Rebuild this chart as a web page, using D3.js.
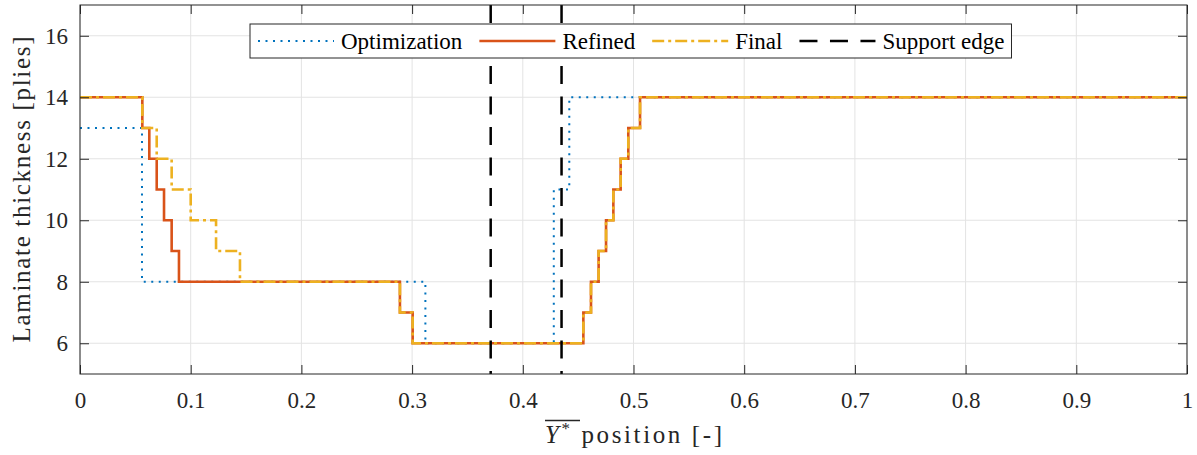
<!DOCTYPE html>
<html>
<head>
<meta charset="utf-8">
<script src="https://cdn.jsdelivr.net/npm/d3@7"></script>
<style>
  body { margin: 0; background: #fff; }
  svg { display: block; }
  svg text { font-family: "Liberation Serif", "Times New Roman", Times, "DejaVu Serif", serif; }
</style>
</head>
<body>
<svg id="chart"></svg>
<script>
const canWidth = 1197;
const canHeight = 455;
const margin = {left: 80, right: 10, top: 5, bottom: 81};

// step data: x is where each level starts, last point closes at x = 1
const optX = [0, 0.056, 0.312, 0.428, 0.442, 1];
const optY = [13, 8, 6, 11, 14, 14];
const refX = [0, 0.0563, 0.0626, 0.0693, 0.0759, 0.0828, 0.0894, 0.289, 0.3005, 0.4547, 0.4616, 0.4685, 0.4752, 0.4818, 0.4884, 0.4953, 0.5059, 1];
const refY = [14, 13, 12, 11, 10, 9, 8, 7, 6, 7, 8, 9, 10, 11, 12, 13, 14, 14];
const finX = [0, 0.0563, 0.0693, 0.0828, 0.1, 0.1229, 0.1445, 0.289, 0.3005, 0.4547, 0.4616, 0.4685, 0.4752, 0.4818, 0.4884, 0.4953, 0.5059, 1];
const finY = [14, 13, 12, 11, 10, 9, 8, 7, 6, 7, 8, 9, 10, 11, 12, 13, 14, 14];
const supportEdges = [0.371, 0.435];

const xTicks = [0, 0.1, 0.2, 0.3, 0.4, 0.5, 0.6, 0.7, 0.8, 0.9, 1];
const yTicks = [6, 8, 10, 12, 14, 16];
const legendNames = ["Optimization", "Refined", "Final", "Support edge"];

const colors = {opt: "#0072BD", ref: "#D95319", fin: "#EDB120", sup: "#000000"};

const plotW = canWidth - margin.left - margin.right;
const plotH = canHeight - margin.top - margin.bottom;

const xs = d3.scaleLinear().domain([0, 1]).range([0, plotW]);
const ys = d3.scaleLinear().domain([5, 17]).range([plotH, 0]);

const svg = d3.select('#chart').attr('width', canWidth).attr('height', canHeight);
const g = svg.append('g').attr('transform', `translate(${margin.left},${margin.top})`);

// grid
g.append('g').selectAll('line').data(xTicks).enter().append('line')
    .attr('x1', d => xs(d)).attr('x2', d => xs(d))
    .attr('y1', 0).attr('y2', plotH)
    .attr('stroke', '#e3e3e3').attr('stroke-width', 1);
g.append('g').selectAll('line').data(yTicks).enter().append('line')
    .attr('x1', 0).attr('x2', plotW)
    .attr('y1', d => ys(d)).attr('y2', d => ys(d))
    .attr('stroke', '#e3e3e3').attr('stroke-width', 1);

const stepLine = d3.line().x(d => xs(d[0])).y(d => ys(d[1])).curve(d3.curveStepAfter);
const zip = (a, b) => a.map((v, i) => [v, b[i]]);

g.append('path').datum(zip(optX, optY))
    .attr('d', stepLine).attr('fill', 'none')
    .attr('stroke', colors.opt).attr('stroke-width', 2)
    .attr('stroke-dasharray', '2,5.5');
g.append('path').datum(zip(refX, refY))
    .attr('d', stepLine).attr('fill', 'none')
    .attr('stroke', colors.ref).attr('stroke-width', 2.6);
g.append('path').datum(zip(finX, finY))
    .attr('d', stepLine).attr('fill', 'none')
    .attr('stroke', colors.fin).attr('stroke-width', 2.6)
    .attr('stroke-dasharray', '12,4,3,4');

g.append('g').selectAll('line').data(supportEdges).enter().append('line')
    .attr('x1', d => xs(d)).attr('x2', d => xs(d))
    .attr('y1', 0).attr('y2', plotH)
    .attr('stroke', colors.sup).attr('stroke-width', 2.5)
    .attr('stroke-dasharray', '18,12.5');

// axes box with inward ticks
const axisColor = '#262626';
g.append('rect').attr('width', plotW).attr('height', plotH)
    .attr('fill', 'none').attr('stroke', axisColor).attr('stroke-width', 1);

const xa = d3.axisBottom(xs).tickValues(xTicks).tickSize(-9).tickPadding(18)
    .tickFormat(d3.format("~g"));
const ya = d3.axisLeft(ys).tickValues(yTicks).tickSize(-9).tickPadding(12);
const xaTop = d3.axisTop(xs).tickValues(xTicks).tickSize(-9).tickFormat('');
const yaRight = d3.axisRight(ys).tickValues(yTicks).tickSize(-9).tickFormat('');

function styleAxis(sel) {
    sel.attr('font-family', null);
    sel.select('.domain').remove();
    sel.selectAll('line').attr('stroke', axisColor);
    sel.selectAll('text').attr('fill', axisColor).style('font-size', '23px');
}
g.append('g').attr('transform', `translate(0,${plotH})`).call(xa).call(styleAxis);
g.append('g').call(ya).call(styleAxis);
g.append('g').call(xaTop).call(styleAxis);
g.append('g').attr('transform', `translate(${plotW},0)`).call(yaRight).call(styleAxis);

// axis labels
svg.append('text')
    .attr('transform', `translate(30,${margin.top + plotH / 2}) rotate(-90)`)
    .attr('text-anchor', 'middle')
    .attr('fill', axisColor)
    .attr('textLength', 306).attr('lengthAdjust', 'spacing')
    .style('font-size', '25px')
    .text('Laminate thickness [plies]');

const xl = svg.append('text')
    .attr('x', 545).attr('y', 443)
    .attr('fill', axisColor)
    .attr('textLength', 177).attr('lengthAdjust', 'spacing')
    .style('font-size', '25px');
xl.append('tspan').style('font-style', 'italic').text('Y');
xl.append('tspan').attr('dy', -9).style('font-size', '17px').text('*');
xl.append('tspan').attr('dy', 9).text('\u00a0position [-]');
// overline above "Y*"
const xlNode = xl.node();
const start = xlNode.getStartPositionOfChar(0);
const endStar = xlNode.getEndPositionOfChar(1);
svg.append('line')
    .attr('x1', start.x).attr('x2', Math.max(endStar.x + 1, start.x + 35))
    .attr('y1', 420.5).attr('y2', 420.5)
    .attr('stroke', axisColor).attr('stroke-width', 1.3);

// legend
const legend = svg.append('g');
const legendBox = legend.append('rect')
    .attr('x', 250).attr('y', 24).attr('height', 34)
    .attr('fill', '#fff').attr('stroke', axisColor).attr('stroke-width', 1);
const legendStyles = [
    {color: colors.opt, width: 2, dash: '2,5.5'},
    {color: colors.ref, width: 2.6, dash: null},
    {color: colors.fin, width: 2.6, dash: '12,4,3,4'},
    {color: colors.sup, width: 2.5, dash: '18,12.5'}
];
let lx = 258;
legendNames.forEach((name, i) => {
    const st = legendStyles[i];
    legend.append('line')
        .attr('x1', lx).attr('x2', lx + 76)
        .attr('y1', 41).attr('y2', 41)
        .attr('stroke', st.color).attr('stroke-width', st.width)
        .attr('stroke-dasharray', st.dash);
    const t = legend.append('text')
        .attr('x', lx + 83).attr('y', 49)
        .attr('fill', '#000')
        .style('font-size', '23px')
        .text(name);
    lx += 83 + t.node().getComputedTextLength() + 17;
});
legendBox.attr('width', lx - 17 + 7 - 250);
</script>
</body>
</html>
